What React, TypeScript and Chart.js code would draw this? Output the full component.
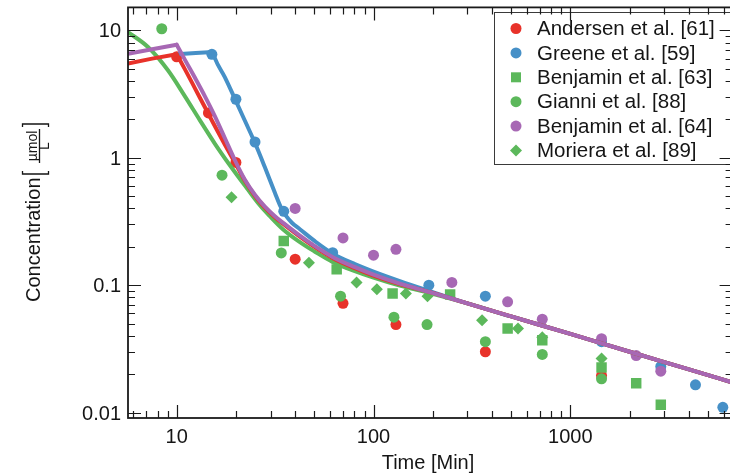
import React, { useEffect, useRef } from "react";
import { Chart, registerables } from "chart.js";

Chart.register(...registerables);

// ---- axis ranges ----
const X_MIN = 5.66;
const X_MAX = 6670;
const Y_MIN = 0.00906;
const Y_MAX = 15.15;

// ---- tick labels ----
const xTickValues = [10, 100, 1000];
const xTickLabels = ["10", "100", "1000"];
const xMinorTicks = [6, 7, 8, 9, 20, 30, 40, 50, 60, 70, 80, 90, 200, 300, 400, 500, 600, 700, 800, 900, 2000, 3000, 4000, 5000, 6000];
const yTickValues = [0.01, 0.1, 1, 10];
const yTickLabels = ["0.01", "0.1", "1", "10"];
const yMinorTicks = [0.02, 0.03, 0.04, 0.05, 0.06, 0.07, 0.08, 0.09, 0.2, 0.3, 0.4, 0.5, 0.6, 0.7, 0.8, 0.9, 2, 3, 4, 5, 6, 7, 8, 9];

const xTitle = "Time [Min]";

// ---- legend names ----
const seriesNames = [
  "Andersen et al. [61]",
  "Greene et al. [59]",
  "Benjamin et al. [63]",
  "Gianni et al. [88]",
  "Benjamin et al. [64]",
  "Moriera et al. [89]",
];

// ---- measured points (time in min, concentration in µmol/L) ----
const andersenTime = [10, 14.5, 20, 40, 70, 130, 370, 1440];
const andersenConc = [6.2, 2.25, 0.92, 0.16, 0.072, 0.049, 0.03, 0.0195];

const greeneTime = [15.1, 20, 25, 35, 62, 191, 370, 1440, 2880, 4320, 5950];
const greeneConc = [6.49, 2.88, 1.33, 0.38, 0.18, 0.1, 0.082, 0.036, 0.023, 0.0165, 0.011];

const benjamin63Time = [35, 65, 125, 245, 480, 720, 1440, 2160, 2880];
const benjamin63Conc = [0.222, 0.133, 0.086, 0.0845, 0.0457, 0.037, 0.0226, 0.017, 0.0115];

const gianniTime = [8.4, 17, 34, 68, 127, 187, 370, 720, 1440];
const gianniConc = [10.3, 0.73, 0.179, 0.082, 0.056, 0.049, 0.036, 0.0286, 0.0184];

const benjamin64Time = [40, 70, 100, 130, 250, 480, 720, 1440, 2160, 2880];
const benjamin64Conc = [0.4, 0.235, 0.172, 0.191, 0.105, 0.074, 0.054, 0.038, 0.028, 0.0211];

const morieraTime = [19, 47, 82, 104, 146, 188, 356, 542, 720, 1440];
const morieraConc = [0.49, 0.15, 0.105, 0.093, 0.086, 0.082, 0.053, 0.0457, 0.039, 0.0265];

// ---- fitted curves ----
const andersenFitRiseTime = [5.66, 7.5, 10];
const andersenFitRiseConc = [5.48, 6.0, 6.5];
const andersenFitTime = [10, 11.02, 12.39, 13.92, 15.65, 17.59, 19.77, 22.22, 24.97, 28.07, 31.55, 35.46, 42.26, 50.36, 62.14, 80.4, 100, 136, 193, 300, 500, 1000, 2000, 4000, 6670];
const andersenFitConc = [6.5, 4.944, 3.509, 2.49, 1.766, 1.265, 0.914, 0.66, 0.5035, 0.4053, 0.3415, 0.2955, 0.2401, 0.1986, 0.1628, 0.1359, 0.1187, 0.1018, 0.0881, 0.0719, 0.0568, 0.0414, 0.03, 0.0218, 0.0172];

const greeneFitRiseTime = [10, 12.5, 15.3];
const greeneFitRiseConc = [6.5, 6.65, 6.76];
const greeneFitTime = [15.3, 15.65, 17.59, 19.77, 22.22, 24.97, 28.07, 31.55, 33.84, 35.88, 38.48, 42.26, 50.36, 62.14, 80.4, 100, 136, 193, 300, 500, 1000, 2000, 4000, 6670];
const greeneFitConc = [6.76, 6.03, 4.28, 2.9, 1.951, 1.311, 0.842, 0.5315, 0.409, 0.3508, 0.309, 0.2749, 0.2214, 0.1767, 0.1461, 0.1276, 0.1075, 0.0897, 0.0719, 0.0568, 0.0414, 0.03, 0.0218, 0.0172];

const gianniFitTime = [5.66, 7.15, 9.03, 11.02, 13.13, 15.65, 18.64, 22.75, 26.48, 29.76, 34.64, 42.26, 50.36, 62.14, 80.4, 100, 136, 193, 300, 500, 1000, 2000, 4000, 6670];
const gianniFitConc = [9.7, 7.4, 4.86, 3.036, 1.968, 1.288, 0.8733, 0.5765, 0.424, 0.3477, 0.2749, 0.2175, 0.1831, 0.1516, 0.1288, 0.1145, 0.0991, 0.0866, 0.0719, 0.0568, 0.0414, 0.03, 0.0218, 0.0172];

const benjamin64FitRiseTime = [5.66, 7.5, 10];
const benjamin64FitRiseConc = [6.56, 7.12, 7.72];
const benjamin64FitTime = [10, 11.02, 12.39, 13.92, 15.65, 17.59, 19.77, 22.22, 24.97, 28.07, 31.55, 35.46, 42.26, 50.36, 62.14, 80.4, 100, 136, 193, 300, 500, 1000, 2000, 4000, 6670];
const benjamin64FitConc = [7.72, 5.87, 4.242, 3.036, 2.116, 1.422, 0.956, 0.672, 0.5126, 0.4127, 0.3477, 0.301, 0.2445, 0.2022, 0.1658, 0.1384, 0.1209, 0.1027, 0.0881, 0.0719, 0.0568, 0.0414, 0.03, 0.0218, 0.0172];

// ---- styles ----
const RED = "#e8322a";
const BLUE = "#4690c7";
const GREEN = "#5cb85b";
const PURPLE = "#a768b4";
const FONT = '"Liberation Sans", Arial, Helvetica, sans-serif';
const TEXT = "#151515";

const legendStyles = [
  { color: RED, shape: "circle" },
  { color: BLUE, shape: "circle" },
  { color: GREEN, shape: "square" },
  { color: GREEN, shape: "circle" },
  { color: PURPLE, shape: "circle" },
  { color: GREEN, shape: "diamond" },
];

const pts = (t: number[], c: number[]) => t.map((x, i) => ({ x, y: c[i] }));

const lineDs = (t: number[], c: number[], color: string, smooth: boolean) => ({
  data: pts(t, c),
  showLine: true,
  borderColor: color,
  backgroundColor: color,
  borderWidth: 4,
  pointRadius: 0,
  tension: 0,
  cubicInterpolationMode: smooth ? "monotone" : "default",
  borderCapStyle: "round",
  borderJoinStyle: "round",
});

const scatterDs = (t: number[], c: number[], color: string, style: string, r: number) => ({
  data: pts(t, c),
  showLine: false,
  pointStyle: style,
  pointRadius: r,
  pointBackgroundColor: color,
  pointBorderColor: color,
  pointBorderWidth: 0,
  backgroundColor: color,
  borderColor: color,
});

function drawMarker(ctx: CanvasRenderingContext2D, shape: string, x: number, y: number, color: string) {
  ctx.fillStyle = color;
  ctx.beginPath();
  if (shape === "circle") {
    ctx.arc(x, y, 5.5, 0, Math.PI * 2);
  } else if (shape === "square") {
    ctx.rect(x - 5, y - 5, 10, 10);
  } else {
    ctx.moveTo(x, y - 6);
    ctx.lineTo(x + 6, y);
    ctx.lineTo(x, y + 6);
    ctx.lineTo(x - 6, y);
    ctx.closePath();
  }
  ctx.fill();
}

const decorPlugin = {
  id: "decor",
  afterDatasetsDraw(chart: any) {
    const ctx: CanvasRenderingContext2D = chart.ctx;
    // legend box
    ctx.save();
    ctx.fillStyle = "#ffffff";
    ctx.fillRect(494.5, 12.5, 260, 152);
    ctx.strokeStyle = "#3a3a3a";
    ctx.lineWidth = 1;
    ctx.strokeRect(494.5, 12.5, 260, 152);
    ctx.font = `20.5px ${FONT}`;
    ctx.textBaseline = "middle";
    ctx.textAlign = "left";
    seriesNames.forEach((name, i) => {
      const y = 28.5 + i * 24.4;
      drawMarker(ctx, legendStyles[i].shape, 516, y, legendStyles[i].color);
      ctx.fillStyle = TEXT;
      ctx.fillText(name, 537, y + 1);
    });
    ctx.restore();
  },
  afterDraw(chart: any) {
    const ctx: CanvasRenderingContext2D = chart.ctx;
    const { left, right, top, bottom } = chart.chartArea;
    const xs = chart.scales.x;
    const ys = chart.scales.y;
    ctx.save();
    // ticks
    ctx.strokeStyle = "#1a1a1a";
    ctx.lineWidth = 1.2;
    ctx.beginPath();
    const xt = (v: number, len: number) => {
      const p = Math.round(xs.getPixelForValue(v)) + 0.5;
      ctx.moveTo(p, bottom);
      ctx.lineTo(p, bottom - len);
      ctx.moveTo(p, top);
      ctx.lineTo(p, top + len);
    };
    const yt = (v: number, len: number) => {
      const p = Math.round(ys.getPixelForValue(v)) + 0.5;
      ctx.moveTo(left, p);
      ctx.lineTo(left + len, p);
      ctx.moveTo(right, p);
      ctx.lineTo(right - len, p);
    };
    xTickValues.forEach((v) => xt(v, 13));
    xMinorTicks.forEach((v) => xt(v, 7));
    yTickValues.forEach((v) => yt(v, 13));
    yMinorTicks.forEach((v) => yt(v, 7));
    ctx.stroke();
    // frame
    ctx.lineWidth = 1.8;
    ctx.strokeRect(left, top, right - left, bottom - top);

    // tick labels
    ctx.fillStyle = TEXT;
    ctx.font = `20px ${FONT}`;
    ctx.textAlign = "center";
    ctx.textBaseline = "middle";
    xTickValues.forEach((v, i) => {
      ctx.fillText(xTickLabels[i], xs.getPixelForValue(v), 437);
    });
    ctx.textAlign = "right";
    yTickValues.forEach((v, i) => {
      ctx.fillText(yTickLabels[i], 121, ys.getPixelForValue(v) + 1.5);
    });

    // x title
    ctx.textAlign = "center";
    ctx.fillText(xTitle, (left + 730) / 2 - 1, 463);

    // y title (rotated) with fraction; local (u, v) -> real (v, -u)
    ctx.rotate(-Math.PI / 2);
    ctx.textAlign = "left";
    ctx.textBaseline = "alphabetic";
    ctx.font = `20px ${FONT}`;
    ctx.fillText("Concentration", -302, 39.5);
    ctx.strokeStyle = TEXT;
    ctx.lineWidth = 1.3;
    ctx.beginPath();
    // "["
    ctx.moveTo(-171, 22.5);
    ctx.lineTo(-174, 22.5);
    ctx.lineTo(-174, 48.5);
    ctx.lineTo(-171, 48.5);
    // "]"
    ctx.moveTo(-127, 22.5);
    ctx.lineTo(-124, 22.5);
    ctx.lineTo(-124, 48.5);
    ctx.lineTo(-127, 48.5);
    // fraction bar
    ctx.moveTo(-163, 39.5);
    ctx.lineTo(-129, 39.5);
    ctx.stroke();
    ctx.font = `14px ${FONT}`;
    ctx.textAlign = "center";
    ctx.fillText("\u00b5mol", -146, 37);
    ctx.fillText("L", -146, 49);
    ctx.restore();
  },
};

export default function App() {
  const canvasRef = useRef<HTMLCanvasElement | null>(null);

  useEffect(() => {
    const canvas = canvasRef.current;
    if (!canvas) return;
    const datasets: any[] = [
      // lines (first = drawn on top)
      lineDs(benjamin64FitRiseTime, benjamin64FitRiseConc, PURPLE, false),
      lineDs(benjamin64FitTime, benjamin64FitConc, PURPLE, true),
      lineDs(andersenFitRiseTime, andersenFitRiseConc, RED, false),
      lineDs(andersenFitTime, andersenFitConc, RED, true),
      lineDs(greeneFitRiseTime, greeneFitRiseConc, BLUE, false),
      lineDs(greeneFitTime, greeneFitConc, BLUE, true),
      lineDs(gianniFitTime, gianniFitConc, GREEN, true),
      // measured points
      scatterDs(benjamin64Time, benjamin64Conc, PURPLE, "circle", 5.5),
      scatterDs(gianniTime, gianniConc, GREEN, "circle", 5.5),
      scatterDs(benjamin63Time, benjamin63Conc, GREEN, "rect", 7.4),
      scatterDs(morieraTime, morieraConc, GREEN, "rectRot", 6),
      scatterDs(greeneTime, greeneConc, BLUE, "circle", 5.5),
      scatterDs(andersenTime, andersenConc, RED, "circle", 5.5),
    ];
    const chart = new Chart(canvas, {
      type: "scatter",
      data: { datasets },
      options: {
        animation: false,
        responsive: false,
        devicePixelRatio: 1,
        layout: { padding: { left: 0, top: 7, right: 7, bottom: 0 } },
        plugins: { legend: { display: false }, tooltip: { enabled: false } },
        scales: {
          x: {
            type: "logarithmic",
            min: X_MIN,
            max: X_MAX,
            grid: { display: false, drawTicks: false },
            border: { display: false },
            ticks: { display: false },
            afterFit: (s: any) => {
              s.height = 57;
              s.paddingLeft = 0;
              s.paddingRight = 0;
            },
          },
          y: {
            type: "logarithmic",
            min: Y_MIN,
            max: Y_MAX,
            grid: { display: false, drawTicks: false },
            border: { display: false },
            ticks: { display: false },
            afterFit: (s: any) => {
              s.width = 128;
              s.paddingTop = 0;
              s.paddingBottom = 0;
            },
          },
        },
      } as any,
      plugins: [decorPlugin as any],
    });
    return () => chart.destroy();
  }, []);

  return (
    <div
      style={{
        position: "fixed",
        left: 0,
        top: 0,
        width: 730,
        height: 475,
        overflow: "hidden",
        background: "#ffffff",
      }}
    >
      <canvas ref={canvasRef} width={740} height={475} style={{ display: "block", width: 740, height: 475 }} />
    </div>
  );
}
